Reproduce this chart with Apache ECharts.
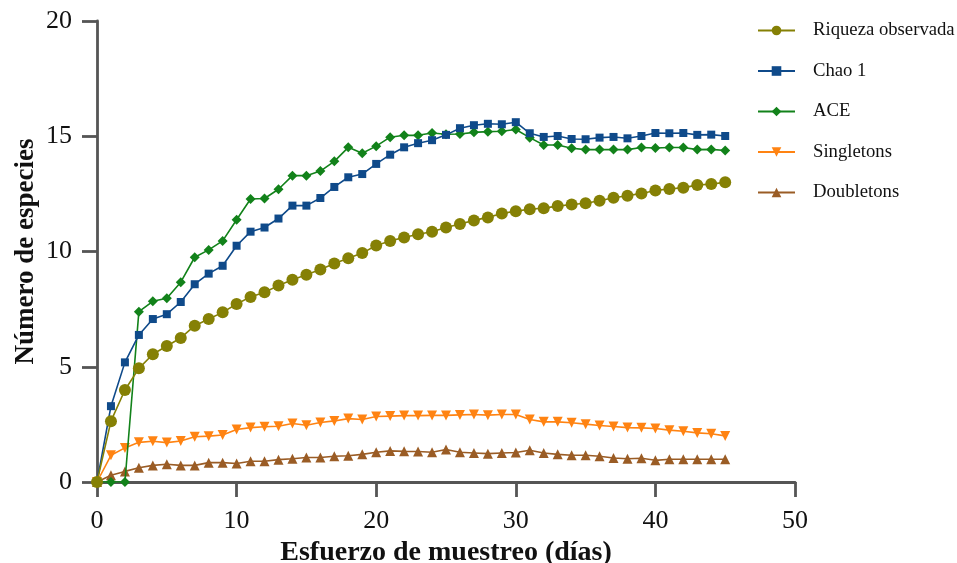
<!DOCTYPE html>
<html><head><meta charset="utf-8">
<script src="https://cdn.jsdelivr.net/npm/echarts@6/dist/echarts.min.js"></script>
<style>html,body{margin:0;padding:0;background:#fff}#c{width:957px;height:563px}</style>
</head><body><div id="c"></div>
<script>
const days = Array.from({length: 46}, (_, i) => i);
const riqueza = [0, 2.64, 3.99, 4.93, 5.54, 5.90, 6.25, 6.78, 7.07, 7.36, 7.72, 8.03, 8.23, 8.52, 8.77, 8.99, 9.22, 9.48, 9.71, 9.93, 10.26, 10.46, 10.61, 10.75, 10.86, 11.04, 11.19, 11.35, 11.48, 11.65, 11.75, 11.83, 11.88, 11.97, 12.04, 12.09, 12.20, 12.33, 12.42, 12.52, 12.65, 12.71, 12.77, 12.88, 12.93, 13.00];
const chao1 = [0, 3.29, 5.19, 6.38, 7.07, 7.28, 7.81, 8.58, 9.04, 9.38, 10.25, 10.86, 11.04, 11.43, 11.99, 11.99, 12.32, 12.80, 13.22, 13.36, 13.80, 14.20, 14.52, 14.70, 14.83, 15.06, 15.35, 15.48, 15.54, 15.52, 15.61, 15.13, 14.97, 15.01, 14.88, 14.87, 14.94, 14.97, 14.91, 15.01, 15.14, 15.13, 15.14, 15.06, 15.07, 15.01];
const ace = [0, 0, 0, 7.39, 7.84, 7.97, 8.67, 9.75, 10.07, 10.46, 11.38, 12.28, 12.30, 12.70, 13.29, 13.29, 13.49, 13.91, 14.52, 14.26, 14.57, 14.96, 15.04, 15.04, 15.14, 15.09, 15.10, 15.17, 15.20, 15.22, 15.29, 14.94, 14.62, 14.62, 14.48, 14.42, 14.42, 14.42, 14.42, 14.51, 14.49, 14.51, 14.51, 14.42, 14.43, 14.38];
const singletons = [0, 1.16, 1.48, 1.72, 1.77, 1.71, 1.78, 1.96, 1.99, 2.04, 2.28, 2.36, 2.40, 2.42, 2.54, 2.46, 2.58, 2.65, 2.75, 2.71, 2.84, 2.86, 2.88, 2.88, 2.89, 2.89, 2.91, 2.93, 2.90, 2.93, 2.93, 2.71, 2.61, 2.61, 2.57, 2.51, 2.45, 2.41, 2.36, 2.35, 2.32, 2.25, 2.20, 2.13, 2.09, 2.00];
const doubletons = [0, 0.29, 0.46, 0.62, 0.72, 0.77, 0.72, 0.72, 0.84, 0.84, 0.80, 0.90, 0.90, 0.97, 1.01, 1.06, 1.06, 1.12, 1.14, 1.20, 1.29, 1.35, 1.33, 1.32, 1.29, 1.41, 1.29, 1.26, 1.23, 1.26, 1.28, 1.38, 1.26, 1.20, 1.16, 1.16, 1.12, 1.04, 1.01, 1.03, 0.94, 0.99, 0.99, 0.99, 0.99, 0.99];
const seriesNames = ['Riqueza observada', 'Chao 1', 'ACE', 'Singletons', 'Doubletons'];
const xTicks = [0, 10, 20, 30, 40, 50];
const yTicks = [0, 5, 10, 15, 20];

const font = 'Liberation Serif, Times New Roman, serif';
const axisColor = '#555555';
const pair = arr => days.map((d, i) => [d, arr[i]]);

function mk(name, data, color, symbol, size, z, rotate) {
  return {
    name, type: 'line', data: pair(data), z,
    symbol, symbolSize: size, symbolRotate: rotate || 0,
    lineStyle: {color, width: 1.6},
    itemStyle: {color},
    emphasis: {disabled: true},
    animation: false
  };
}

const chart = echarts.init(document.getElementById('c'), null, {renderer: 'canvas'});
chart.setOption({
  backgroundColor: '#ffffff',
  animation: false,
  grid: {left: 97, right: 162, top: 21, bottom: 81, containLabel: false, outerBoundsMode: 'none'},
  legend: {
    orient: 'vertical', left: 752, top: 16, itemWidth: 37, itemHeight: 12, itemGap: 21.5,
    data: seriesNames,
    textStyle: {fontFamily: font, fontSize: 18.7, color: '#111', padding: [0, 0, 0, 13]}
  },
  xAxis: {
    type: 'value', min: xTicks[0], max: xTicks[xTicks.length - 1], interval: 10,
    name: 'Esfuerzo de muestreo (días)', nameLocation: 'middle', nameGap: 57, nameMoveOverlap: false,
    nameTextStyle: {fontFamily: font, fontSize: 28, fontWeight: 'bold', color: '#111'},
    axisLine: {show: true, lineStyle: {color: axisColor, width: 2.8}},
    axisTick: {show: true, length: 15, lineStyle: {color: axisColor, width: 2.8}},
    axisLabel: {fontFamily: font, fontSize: 26, color: '#111', margin: 26},
    splitLine: {show: false}
  },
  yAxis: {
    type: 'value', min: yTicks[0], max: yTicks[yTicks.length - 1], interval: 5,
    name: 'Número de especies', nameLocation: 'middle', nameGap: 57, nameMoveOverlap: false,
    nameTextStyle: {fontFamily: font, fontSize: 27, fontWeight: 'bold', color: '#111'},
    axisLine: {show: true, lineStyle: {color: axisColor, width: 2.8}},
    axisTick: {show: true, length: 15, lineStyle: {color: axisColor, width: 2.8}},
    axisLabel: {fontFamily: font, fontSize: 26, color: '#111', margin: 25},
    splitLine: {show: false}
  },
  series: [
    mk(seriesNames[4], doubletons, '#9a5c25', 'triangle', 10, 2),
    mk(seriesNames[3], singletons, '#ff8312', 'triangle', 10, 3, 180),
    mk(seriesNames[2], ace, '#12821a', 'diamond', 10, 4),
    mk(seriesNames[1], chao1, '#0f4a8a', 'rect', 8, 5),
    mk(seriesNames[0], riqueza, '#858005', 'circle', 12, 6)
  ]
});
</script></body></html>
